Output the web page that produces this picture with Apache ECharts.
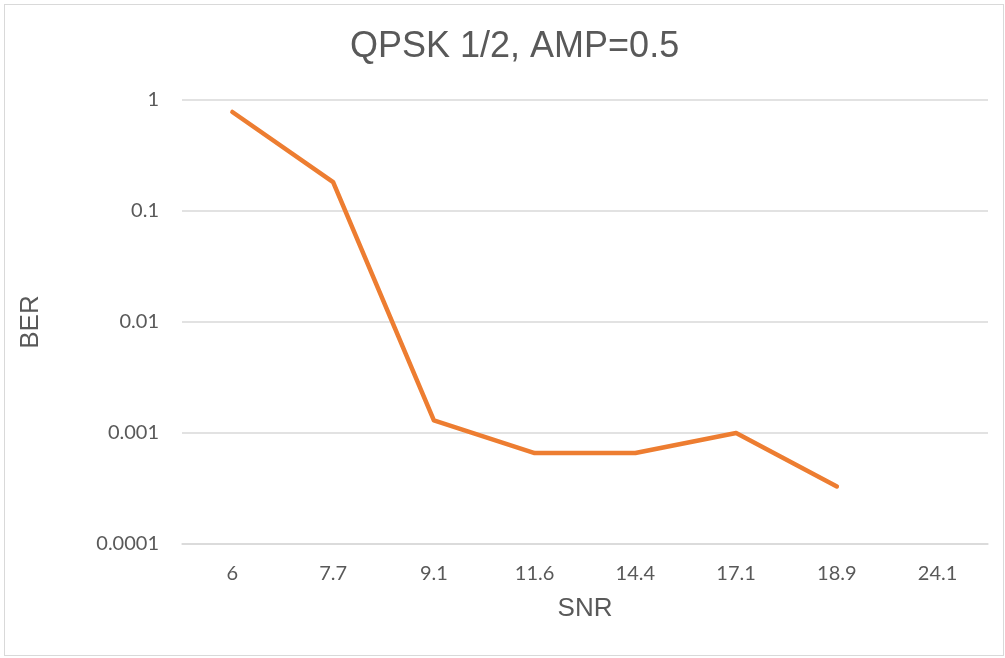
<!DOCTYPE html>
<html>
<head>
<meta charset="utf-8">
<script src="https://cdn.jsdelivr.net/npm/echarts@6/dist/echarts.min.js"></script>
<style>
  html, body { margin: 0; padding: 0; background: #fff; }
  #frame { position: absolute; left: 4px; top: 4px; width: 1000px; height: 652px; border: 1px solid #d9d9d9; box-sizing: border-box; }
  #chart { position: absolute; left: 0; top: 0; width: 1005px; height: 658px; }
</style>
</head>
<body>
<div id="frame"></div>
<div id="chart"></div>
<script>
// SNR values (dB) used as category labels
const snrLabels = ['6', '7.7', '9.1', '11.6', '14.4', '17.1', '18.9', '24.1'];
// Bit error rate at each SNR; no error measured at 24.1
const berValues = [0.78, 0.182, 0.0013, 0.00066, 0.00066, 0.001, 0.00033, null];

const chart = echarts.init(document.getElementById('chart'));
const textColor = '#595959';
const gridColor = '#d9d9d9';

chart.setOption({
  animation: false,
  title: {
    text: 'QPSK 1/2, AMP=0.5',
    left: 345,
    top: 24,
    textStyle: { fontFamily: 'Liberation Sans, Arial', fontSize: 36, fontWeight: 'normal', color: textColor }
  },
  grid: { left: 182, right: 17, top: 100, bottom: 114 },
  xAxis: {
    type: 'category',
    data: snrLabels,
    boundaryGap: true,
    name: 'SNR',
    nameLocation: 'middle',
    nameGap: 52,
    nameTextStyle: { fontFamily: 'Liberation Sans, Arial', fontSize: 26, color: textColor },
    axisLine: { show: true, lineStyle: { color: gridColor, width: 1.5 } },
    axisTick: { show: false },
    axisLabel: { fontFamily: 'Lato, Open Sans', fontSize: 20, color: textColor, margin: 20 }
  },
  yAxis: {
    type: 'log',
    logBase: 10,
    min: 0.0001,
    max: 1,
    name: 'BER',
    nameLocation: 'middle',
    nameGap: 138,
    nameTextStyle: { fontFamily: 'Liberation Sans, Arial', fontSize: 26, color: textColor },
    axisLine: { show: false },
    axisTick: { show: false },
    splitLine: { show: true, lineStyle: { color: gridColor, width: 1.5 } },
    axisLabel: {
      fontFamily: 'Lato, Open Sans',
      fontSize: 20,
      color: textColor,
      margin: 23,
      formatter: v => String(Number(Number(v).toPrecision(1)))
    }
  },
  series: [{
    type: 'line',
    data: berValues,
    showSymbol: false,
    connectNulls: false,
    lineStyle: { color: '#ED7D31', width: 4.5, cap: 'round', join: 'round' },
    itemStyle: { color: '#ED7D31' }
  }]
});
</script>
</body>
</html>
